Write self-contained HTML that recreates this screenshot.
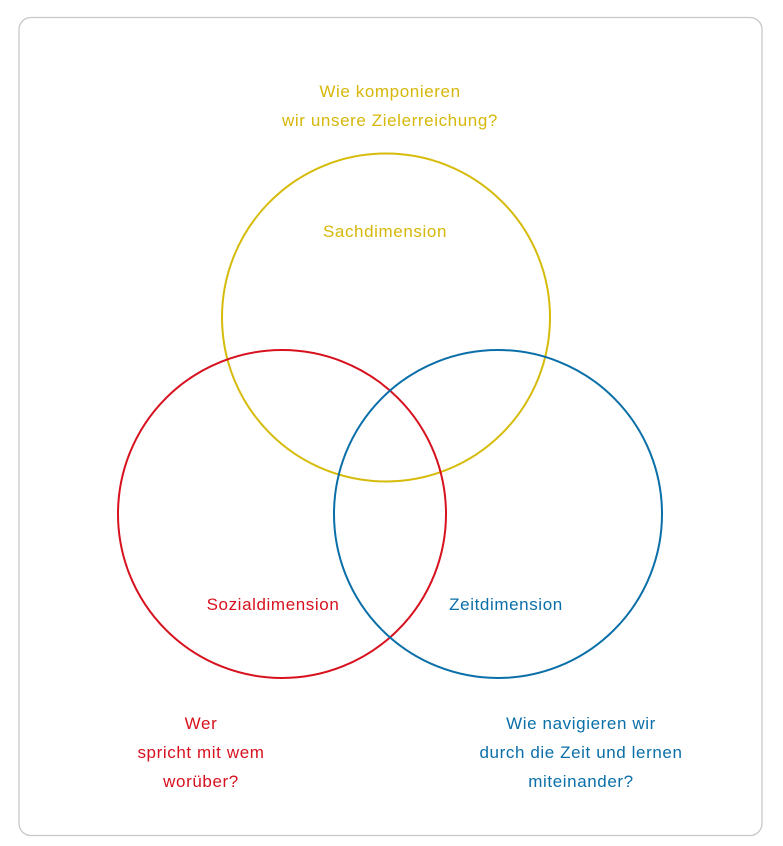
<!DOCTYPE html>
<html><head><meta charset="utf-8"><style>
html,body{margin:0;padding:0;background:#fff;}
svg{display:block;}
text{font-family:"Liberation Sans",sans-serif;font-size:17px;letter-spacing:0.6px;text-anchor:middle;}
</style></head><body>
<svg width="783" height="846" viewBox="0 0 783 846" xmlns="http://www.w3.org/2000/svg">
<rect x="19" y="17.5" width="743" height="818" rx="12" ry="12" fill="#fff" stroke="#c8c8c8" stroke-width="1.3"/>
<circle cx="386" cy="317.5" r="164" fill="none" stroke="#d6bb0a" stroke-width="2"/>
<circle cx="282" cy="514" r="164" fill="none" stroke="#d7111e" stroke-width="2"/>
<circle cx="498" cy="514" r="164" fill="none" stroke="#0a6fa8" stroke-width="2"/>
<g fill="#d6b70a">
<text x="390" y="97">Wie komponieren</text>
<text x="390" y="126">wir unsere Zielerreichung?</text>
<text x="385" y="237">Sachdimension</text>
</g>
<g fill="#d7111e">
<text x="273" y="610">Sozialdimension</text>
<text x="201" y="729">Wer</text>
<text x="201" y="758">spricht mit wem</text>
<text x="201" y="787">worüber?</text>
</g>
<g fill="#0a6fa8">
<text x="506" y="610">Zeitdimension</text>
<text x="581" y="729">Wie navigieren wir</text>
<text x="581" y="758">durch die Zeit und lernen</text>
<text x="581" y="787">miteinander?</text>
</g>
</svg>
</body></html>
